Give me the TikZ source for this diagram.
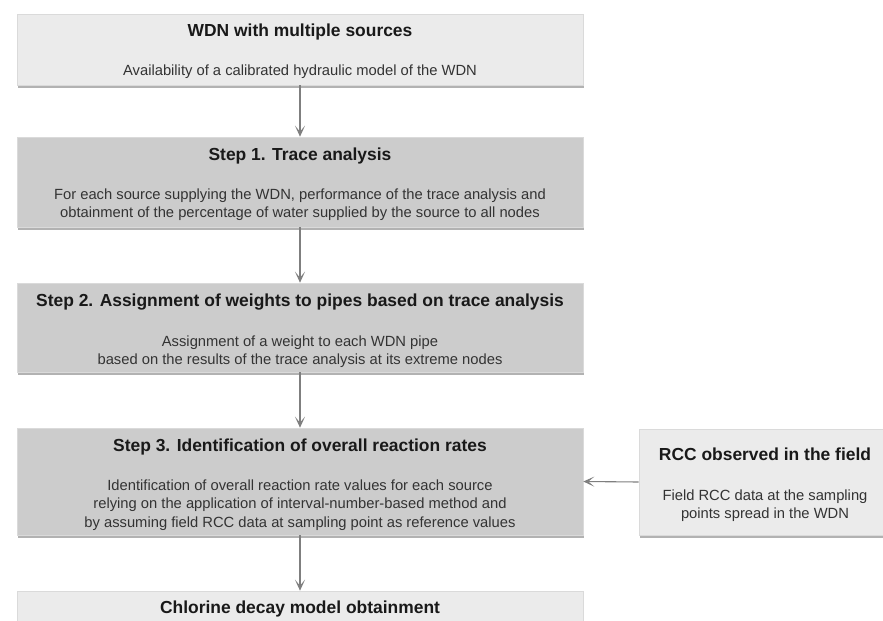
\documentclass[tikz,border=0pt]{standalone}
\usepackage{fontspec}
\setmainfont{Liberation Sans}
\usetikzlibrary{arrows.meta,shadows}
\definecolor{lightbox}{HTML}{EBEBEB}
\definecolor{darkbox}{HTML}{CCCCCC}
\definecolor{edgegrey}{HTML}{DADADA}
\definecolor{arrowgrey}{HTML}{7F7F7F}
\tikzset{
  box/.style={draw=edgegrey, line width=0.6bp, minimum width=566bp, inner sep=0pt,
    drop shadow={shadow xshift=0.8bp, shadow yshift=-3bp, fill=black!50, opacity=0.6}},
  lightb/.style={box, fill=lightbox},
  darkb/.style={box, fill=darkbox},
  ttl/.style={font=\fontsize{17.5}{20}\selectfont\bfseries, text=black!90, inner sep=0pt, anchor=base},
  txt/.style={font=\fontsize{14.8}{18}\selectfont, text=black!80, inner sep=0pt, anchor=base},
  conn/.style={draw=arrowgrey, line width=1.1bp, -{Stealth[length=11bp,width=10bp,inset=6bp]}}
}
\begin{document}
\begin{tikzpicture}[x=1bp,y=-1bp]
\useasboundingbox (0,0) rectangle (883,621);
\clip (0,0) rectangle (883,621);
\fill[white] (0,0) rectangle (883,621);
% boxes
\node[lightb, minimum height=71bp] (b0) at (300,49.5) {};
\node[darkb, minimum height=90bp] (s1) at (300,182) {};
\node[darkb, minimum height=89bp] (s2) at (300,327.5) {};
\node[darkb, minimum height=107bp] (s3) at (300,481.5) {};
\node[lightb, minimum height=71bp] (b4) at (300,626.5) {};
\node[lightb, minimum width=252bp, minimum height=106bp] (rcc) at (765,482) {};
% texts
\node[ttl] (b0t) at (300,37) {WDN with multiple sources};
\node[txt] (b0x) at (300,76) {Availability of a calibrated hydraulic model of the WDN};
\node[ttl] (s1t) at (300,161) {Step 1. Trace analysis};
\node[txt] (s1x1) at (300,200) {For each source supplying the WDN, performance of the trace analysis and};
\node[txt] (s1x2) at (300,218) {obtainment of the percentage of water supplied by the source to all nodes};
\node[ttl] (s2t) at (300,306) {Step 2. Assignment of weights to pipes based on trace analysis};
\node[txt] (s2x1) at (300,346) {Assignment of a weight to each WDN pipe};
\node[txt] (s2x2) at (300,364) {based on the results of the trace analysis at its extreme nodes};
\node[ttl] (s3t) at (300,451) {Step 3. Identification of overall reaction rates};
\node[txt] (s3x1) at (300,490) {Identification of overall reaction rate values for each source};
\node[txt] (s3x2) at (300,508) {relying on the application of interval-number-based method and};
\node[txt] (s3x3) at (300,527) {by assuming field RCC data at sampling point as reference values};
\node[ttl] (b4t) at (300,613) {Chlorine decay model obtainment};
\node[ttl] (rcct) at (765,460) {RCC observed in the field};
\node[txt] (rccx1) at (765,500) {Field RCC data at the sampling};
\node[txt] (rccx2) at (765,518) {points spread in the WDN};
% connectors
\draw[conn] (b0.south) -- (s1.north);
\draw[conn] (s1.south) -- (s2.north);
\draw[conn] (s2.south) -- (s3.north);
\draw[conn] (s3.south) -- (b4.north);
\draw[conn] (rcc.west) -- (s3.east);
\end{tikzpicture}
\end{document}
